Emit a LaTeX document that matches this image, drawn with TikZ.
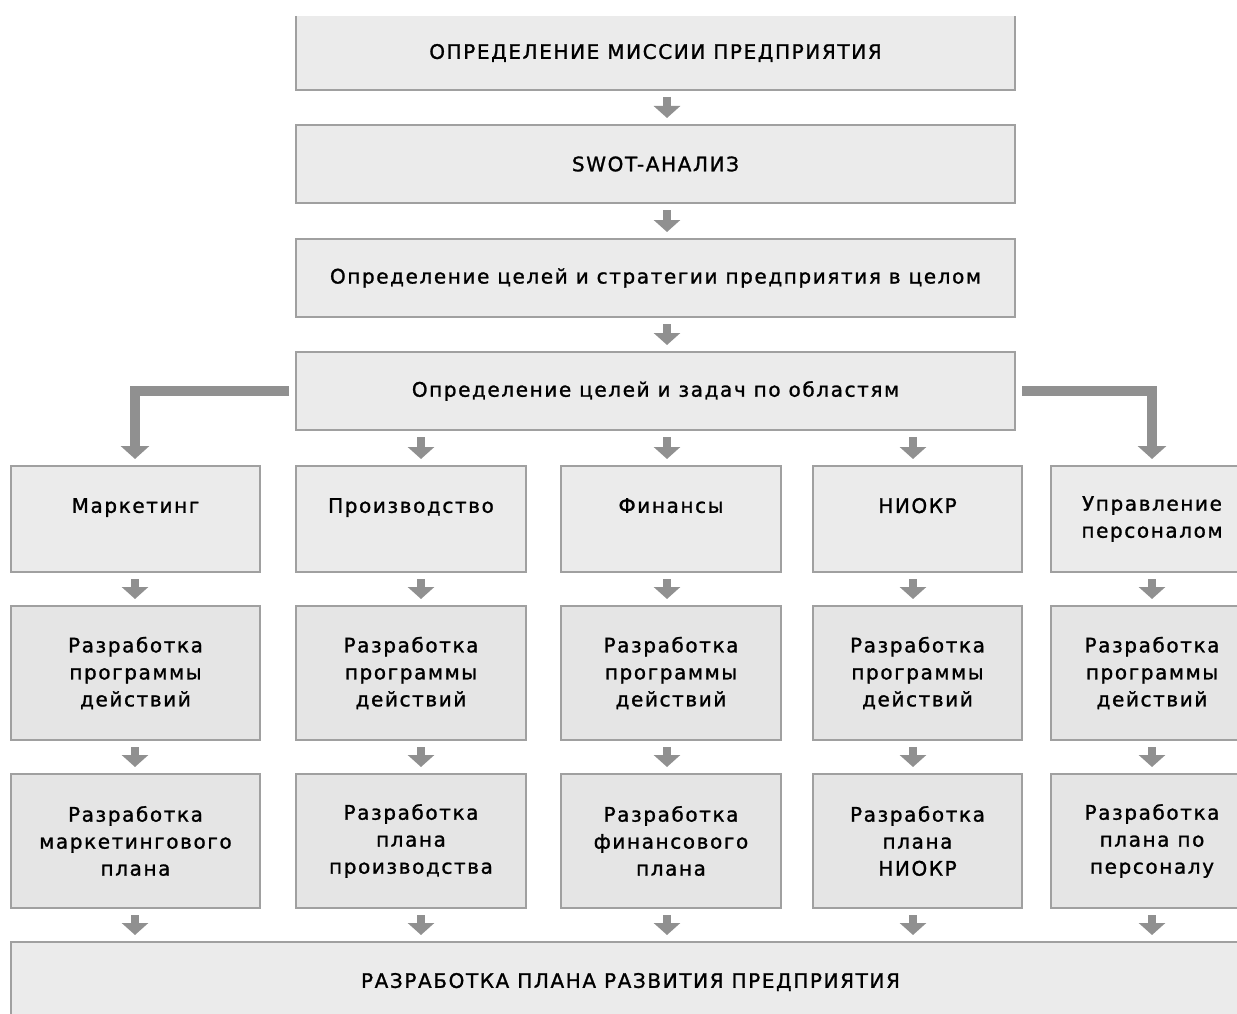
\documentclass[tikz,border=0pt]{standalone}
\usepackage{fontspec}
\setmainfont{DejaVu Sans}[LetterSpace=8,FakeBold=1.2]
\usetikzlibrary{arrows.meta}
\definecolor{boxfill}{HTML}{EBEBEB}
\definecolor{boxfilldark}{HTML}{E5E5E5}
\definecolor{boxline}{HTML}{A0A0A0}
\definecolor{arrowgray}{HTML}{909090}
\begin{document}
\begin{tikzpicture}[x=1pt,y=-1pt,
  box/.style={fill=boxfill, draw=boxline, line width=2.5pt, inner sep=0pt, outer sep=0pt,
    align=center, font=\fontsize{20}{27}\selectfont},
  darkbox/.style={box, fill=boxfilldark},
  smallarr/.style={draw=arrowgray, line width=8pt, -{Triangle[width=26pt,length=12pt]}},
  bentarr/.style={draw=arrowgray, line width=10pt, -{Triangle[width=28pt,length=13pt]}},
]
\useasboundingbox (0,0) rectangle (1237,1014);
\clip (0,0) rectangle (1237,1014);
% column arrow positions
\coordinate (ax1) at (135,0);
\coordinate (ax2) at (421,0);
\coordinate (ax3) at (667,0);
\coordinate (ax4) at (913,0);
\coordinate (ax5) at (1152,0);
% top chain
\node[box, draw=none, minimum width=719pt, minimum height=74pt] (b1) at (655.5,53) {ОПРЕДЕЛЕНИЕ МИССИИ ПРЕДПРИЯТИЯ};
\draw[boxline, line width=2.5pt] (b1.north west) |- (b1.south east) -- (b1.north east);
\node[box, minimum width=719pt, minimum height=78pt] (b2) at (655.5,164) {SWOT-АНАЛИЗ};
\node[box, minimum width=719pt, minimum height=78pt] (b3) at (655.5,278) {Определение целей и стратегии предприятия в целом};
\node[box, minimum width=719pt, minimum height=78pt] (b4) at (655.5,391) {Определение целей и задач по областям};
% row 1
\node[box, minimum width=249pt, minimum height=106pt] (r1c1) at (135.5,519) {Маркетинг\\\phantom{М}};
\node[box, minimum width=230pt, minimum height=106pt] (r1c2) at (411,519) {Производство\\\phantom{М}};
\node[box, minimum width=220pt, minimum height=106pt] (r1c3) at (671,519) {Финансы\\\phantom{М}};
\node[box, minimum width=209pt, minimum height=106pt] (r1c4) at (917.5,519) {НИОКР\\\phantom{М}};
\node[box, minimum width=202pt, minimum height=106pt] (r1c5) at (1152,519) {Управление\\персоналом};
% row 2
\node[darkbox, minimum width=249pt, minimum height=134pt] (r2c1) at (135.5,673) {Разработка\\программы\\действий};
\node[darkbox, minimum width=230pt, minimum height=134pt] (r2c2) at (411,673) {Разработка\\программы\\действий};
\node[darkbox, minimum width=220pt, minimum height=134pt] (r2c3) at (671,673) {Разработка\\программы\\действий};
\node[darkbox, minimum width=209pt, minimum height=134pt] (r2c4) at (917.5,673) {Разработка\\программы\\действий};
\node[darkbox, minimum width=202pt, minimum height=134pt] (r2c5) at (1152,673) {Разработка\\программы\\действий};
% row 3
\node[darkbox, minimum width=249pt, minimum height=134pt] (r3c1) at (135.5,841) {Разработка\\маркетингового\\плана};
\node[darkbox, minimum width=230pt, minimum height=134pt] (r3c2) at (411,841) {Разработка\\плана\\производства};
\node[darkbox, minimum width=220pt, minimum height=134pt] (r3c3) at (671,841) {Разработка\\финансового\\плана};
\node[darkbox, minimum width=209pt, minimum height=134pt] (r3c4) at (917.5,841) {Разработка\\плана\\НИОКР};
\node[darkbox, minimum width=202pt, minimum height=134pt] (r3c5) at (1152,841) {Разработка\\плана по\\персоналу};
% bottom
\node[box, minimum width=1239pt, minimum height=80pt] (bot) at (630.5,982) {РАЗРАБОТКА ПЛАНА РАЗВИТИЯ ПРЕДПРИЯТИЯ};
% top chain arrows
\draw[smallarr] ([yshift=-7pt]b1.south -| ax3) -- ([yshift=7pt]b2.north -| ax3);
\draw[smallarr] ([yshift=-7pt]b2.south -| ax3) -- ([yshift=7pt]b3.north -| ax3);
\draw[smallarr] ([yshift=-7pt]b3.south -| ax3) -- ([yshift=7pt]b4.north -| ax3);
% b4 to row 1
\draw[smallarr] ([yshift=-7pt]b4.south -| ax2) -- ([yshift=7pt]r1c2.north -| ax2);
\draw[smallarr] ([yshift=-7pt]b4.south -| ax3) -- ([yshift=7pt]r1c3.north -| ax3);
\draw[smallarr] ([yshift=-7pt]b4.south -| ax4) -- ([yshift=7pt]r1c4.north -| ax4);
\draw[bentarr] ([xshift=-7pt]b4.west) -| ([yshift=7pt]r1c1.north -| ax1);
\draw[bentarr] ([xshift=7pt]b4.east) -| ([yshift=7pt]r1c5.north -| ax5);
% column arrows
\foreach \c in {1,...,5}{
  \draw[smallarr] ([yshift=-7pt]r1c\c.south -| ax\c) -- ([yshift=7pt]r2c\c.north -| ax\c);
  \draw[smallarr] ([yshift=-7pt]r2c\c.south -| ax\c) -- ([yshift=7pt]r3c\c.north -| ax\c);
  \draw[smallarr] ([yshift=-7pt]r3c\c.south -| ax\c) -- ([yshift=7pt]bot.north -| ax\c);
}
\end{tikzpicture}
\end{document}
